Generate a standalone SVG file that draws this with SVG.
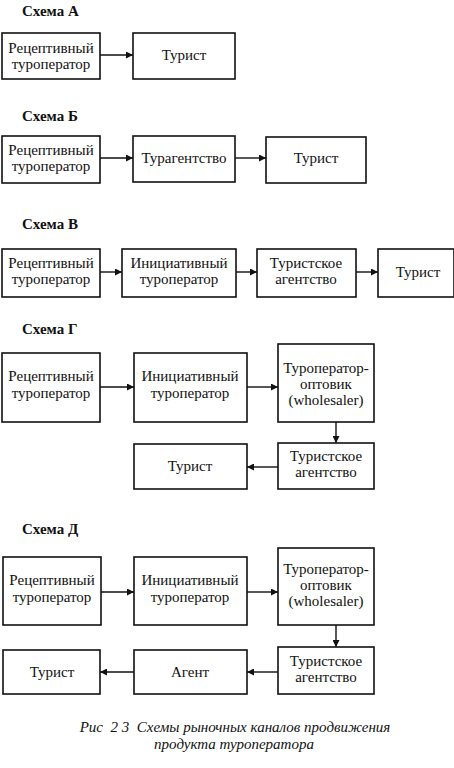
<svg xmlns="http://www.w3.org/2000/svg" width="454" height="768" viewBox="0 0 454 768">
<defs>
<style>
.box{fill:#fff;stroke:#111;stroke-width:1.6}
.t{font-family:"Liberation Serif","Times New Roman","DejaVu Serif",serif;font-size:15px;fill:#111;text-anchor:middle}
.h{font-family:"Liberation Serif","Times New Roman","DejaVu Serif",serif;font-size:15px;font-weight:bold;fill:#111}
.cap{font-family:"Liberation Serif","Times New Roman","DejaVu Serif",serif;font-size:15px;font-style:italic;fill:#111;text-anchor:middle;white-space:pre}
.c{stroke:#111;stroke-width:1.4;fill:none;marker-end:url(#ah)}
</style>
<marker id="ah" viewBox="0 0 10 10" refX="10" refY="5" markerWidth="10" markerHeight="7" markerUnits="userSpaceOnUse" orient="auto">
<path d="M0,0 L10,5 L0,10 z" fill="#111"/>
</marker>
</defs>
<rect width="454" height="768" fill="#fff"/>

<text class="h" x="22" y="16">Схема А</text>
<text class="h" x="22" y="121">Схема Б</text>
<text class="h" x="22" y="229">Схема В</text>
<text class="h" x="22" y="334">Схема Г</text>
<text class="h" x="22" y="534">Схема Д</text>

<!-- Schema A -->
<g id="a1"><rect class="box" x="2" y="33" width="98" height="46"/><text class="t" x="51" y="53">Рецептивный</text><text class="t" x="51" y="69">туроператор</text></g>
<g id="a2"><rect class="box" x="133" y="33" width="102" height="46"/><text class="t" x="184" y="60">Турист</text></g>

<!-- Schema B -->
<g id="b1"><rect class="box" x="2" y="136" width="98" height="47"/><text class="t" x="51" y="155">Рецептивный</text><text class="t" x="51" y="171">туроператор</text></g>
<g id="b2"><rect class="box" x="133" y="136" width="102" height="46"/><text class="t" x="184" y="163">Турагентство</text></g>
<g id="b3"><rect class="box" x="266" y="137" width="100" height="46"/><text class="t" x="316" y="163">Турист</text></g>

<!-- Schema V -->
<g id="v1"><rect class="box" x="2" y="249" width="98" height="48"/><text class="t" x="51" y="268">Рецептивный</text><text class="t" x="51" y="284">туроператор</text></g>
<g id="v2"><rect class="box" x="122" y="249" width="114" height="48"/><text class="t" x="179" y="268">Инициативный</text><text class="t" x="179" y="284">туроператор</text></g>
<g id="v3"><rect class="box" x="257" y="249" width="99" height="48"/><text class="t" x="306" y="268">Туристское</text><text class="t" x="306" y="284">агентство</text></g>
<g id="v4"><rect class="box" x="378" y="249" width="76" height="48"/><text class="t" x="418" y="277">Турист</text></g>

<!-- Schema G -->
<g id="g1"><rect class="box" x="2" y="353" width="98" height="69"/><text class="t" x="51" y="381">Рецептивный</text><text class="t" x="51" y="398">туроператор</text></g>
<g id="g2"><rect class="box" x="134" y="353" width="113" height="69"/><text class="t" x="190" y="381">Инициативный</text><text class="t" x="190" y="398">туроператор</text></g>
<g id="g3"><rect class="box" x="278" y="344" width="96" height="78"/><text class="t" x="326" y="373">Туроператор-</text><text class="t" x="326" y="389">оптовик</text><text class="t" x="326" y="405">(wholesaler)</text></g>
<g id="g4"><rect class="box" x="278" y="443" width="96" height="46"/><text class="t" x="326" y="461">Туристское</text><text class="t" x="326" y="477">агентство</text></g>
<g id="g5"><rect class="box" x="134" y="444" width="113" height="45"/><text class="t" x="190" y="471">Турист</text></g>

<!-- Schema D -->
<g id="d1"><rect class="box" x="3" y="557" width="98" height="68"/><text class="t" x="52" y="585">Рецептивный</text><text class="t" x="52" y="602">туроператор</text></g>
<g id="d2"><rect class="box" x="134" y="557" width="113" height="68"/><text class="t" x="190" y="585">Инициативный</text><text class="t" x="190" y="602">туроператор</text></g>
<g id="d3"><rect class="box" x="278" y="548" width="96" height="77"/><text class="t" x="326" y="574">Туроператор-</text><text class="t" x="326" y="590">оптовик</text><text class="t" x="326" y="606">(wholesaler)</text></g>
<g id="d4"><rect class="box" x="278" y="647" width="96" height="47"/><text class="t" x="326" y="666">Туристское</text><text class="t" x="326" y="682">агентство</text></g>
<g id="d5"><rect class="box" x="134" y="650" width="113" height="44"/><text class="t" x="190" y="677">Агент</text></g>
<g id="d6"><rect class="box" x="3" y="650" width="97" height="44"/><text class="t" x="52" y="677">Турист</text></g>

<g id="connectors">
<line class="c" x1="100" y1="55" x2="133" y2="55"/>
<line class="c" x1="100" y1="158" x2="133" y2="158"/>
<line class="c" x1="235" y1="158" x2="266" y2="158"/>
<line class="c" x1="100" y1="272" x2="122" y2="272"/>
<line class="c" x1="236" y1="272" x2="257" y2="272"/>
<line class="c" x1="356" y1="272" x2="378" y2="272"/>
<line class="c" x1="100" y1="387" x2="134" y2="387"/>
<line class="c" x1="247" y1="387" x2="278" y2="387"/>
<line class="c" x1="336" y1="422" x2="336" y2="443"/>
<line class="c" x1="278" y1="467" x2="247" y2="467"/>
<line class="c" x1="101" y1="592" x2="134" y2="592"/>
<line class="c" x1="247" y1="592" x2="278" y2="592"/>
<line class="c" x1="336" y1="625" x2="336" y2="647"/>
<line class="c" x1="278" y1="672" x2="247" y2="672"/>
<line class="c" x1="134" y1="672" x2="100" y2="672"/>
</g>

<text class="cap" x="235" y="732" xml:space="preserve">Рис  2 3  Схемы рыночных каналов продвижения</text>
<text class="cap" x="234" y="749">продукта туроператора</text>
</svg>
